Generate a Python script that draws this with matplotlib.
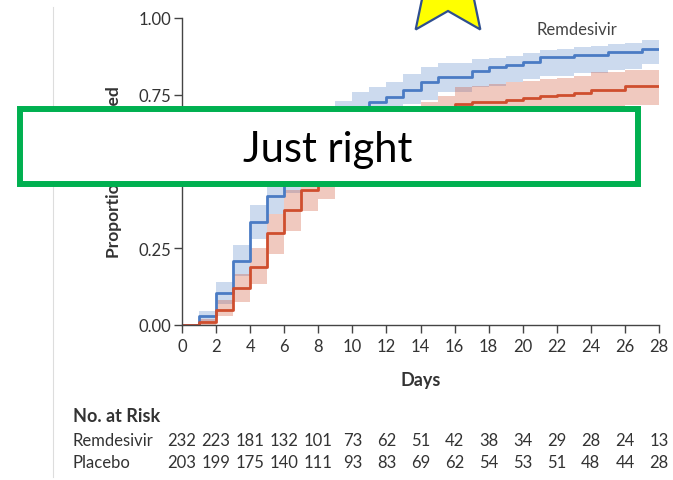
import numpy as np
import matplotlib
matplotlib.use("Agg")
import matplotlib.pyplot as plt
from matplotlib.patches import Rectangle, Polygon
from matplotlib.transforms import blended_transform_factory

plt.rcParams['font.family'] = ['Lato', 'DejaVu Sans']

# cumulative recovery, one value per day (step starts at that day)
days = np.arange(0, 29)
rem = [0.0, 0.029, 0.105, 0.21, 0.334, 0.42, 0.49, 0.54, 0.59, 0.645, 0.685,
       0.725, 0.742, 0.765, 0.791, 0.807, 0.807, 0.826, 0.839, 0.847, 0.858,
       0.872, 0.872, 0.88, 0.88, 0.89, 0.89, 0.899, 0.899]
rem_lo = [0.0, 0.01, 0.07, 0.16, 0.28, 0.36, 0.43, 0.48, 0.53, 0.59, 0.63,
          0.67, 0.69, 0.72, 0.733, 0.758, 0.758, 0.775, 0.78, 0.79, 0.80,
          0.81, 0.81, 0.82, 0.82, 0.83, 0.835, 0.85, 0.85]
rem_hi = [0.0, 0.045, 0.14, 0.26, 0.39, 0.48, 0.56, 0.62, 0.67, 0.73, 0.758,
          0.774, 0.79, 0.818, 0.839, 0.855, 0.855, 0.865, 0.87, 0.875, 0.885,
          0.895, 0.90, 0.905, 0.91, 0.915, 0.92, 0.927, 0.927]

pla = [0.0, 0.009, 0.05, 0.12, 0.19, 0.30, 0.376, 0.44, 0.48, 0.52, 0.55,
       0.58, 0.61, 0.64, 0.67, 0.69, 0.72, 0.725, 0.728, 0.732, 0.738,
       0.745, 0.75, 0.755, 0.767, 0.767, 0.78, 0.78, 0.78]
pla_lo = [0.0, 0.0, 0.03, 0.075, 0.134, 0.23, 0.305, 0.37, 0.41, 0.45, 0.48,
          0.51, 0.54, 0.57, 0.60, 0.63, 0.65, 0.655, 0.66, 0.665, 0.675,
          0.68, 0.685, 0.69, 0.70, 0.70, 0.715, 0.717, 0.717]
pla_hi = [0.0, 0.02, 0.08, 0.165, 0.25, 0.36, 0.44, 0.50, 0.54, 0.58, 0.61,
          0.64, 0.67, 0.70, 0.725, 0.745, 0.774, 0.78, 0.785, 0.79, 0.795,
          0.80, 0.805, 0.81, 0.825, 0.825, 0.83, 0.83, 0.83]

risk_days = list(range(0, 29, 2))
rem_risk = [232, 223, 181, 132, 101, 73, 62, 51, 42, 38, 34, 29, 28, 24, 13]
pla_risk = [203, 199, 175, 140, 111, 93, 83, 69, 62, 54, 53, 51, 48, 44, 28]

blue = '#4a7bc4'
red = '#cf4e2e'
txt = '#333333'

W, H = 673, 481
fig = plt.figure(figsize=(W / 100, H / 100), dpi=100)
ax = fig.add_axes([182 / W, 1 - 326 / H, 477 / W, 307 / H])

ax.fill_between(days, rem_lo, rem_hi, step='post', color=blue, alpha=0.28, lw=0)
ax.fill_between(days, pla_lo, pla_hi, step='post', color=red, alpha=0.3, lw=0)
ax.step(days, rem, where='post', color=blue, lw=2.0)
ax.step(days, pla, where='post', color=red, lw=2.0)

ax.set_xlim(0, 28)
ax.set_ylim(0, 1)
ax.set_xticks(range(0, 29, 2))
ax.set_yticks([0, 0.25, 0.5, 0.75, 1.0])
ax.set_yticklabels(['0.00', '0.25', '0.50', '0.75', '1.00'])
for s in ['top', 'right']:
    ax.spines[s].set_visible(False)
for s in ['left', 'bottom']:
    ax.spines[s].set_color('#444444')
    ax.spines[s].set_linewidth(1.0)
ax.tick_params(colors='#444444', labelcolor=txt, labelsize=12, width=1)
ax.tick_params(axis='x', length=5.5, pad=3.5)
ax.tick_params(axis='y', length=6, pad=1.5)

ax.set_xlabel('Days', fontsize=13, fontweight='bold', color=txt)
ax.xaxis.set_label_coords(0.5, -0.15)
ax.set_ylabel('Proportion Recovered', fontsize=12.5, fontweight='bold', color=txt)
ax.yaxis.set_label_coords(-0.126, 0.5)

ax.text(23.2, 0.965, 'Remdesivir', fontsize=12, color='#444444', ha='center', va='center')

# number at risk table
tr = blended_transform_factory(ax.transData, fig.transFigure)
fig.text(73 / W, 1 - 416 / H, 'No. at Risk', fontsize=13, fontweight='bold', color=txt, va='center')
fig.text(73 / W, 1 - 441 / H, 'Remdesivir', fontsize=12, color=txt, va='center')
fig.text(73 / W, 1 - 463 / H, 'Placebo', fontsize=12, color=txt, va='center')
for d, a, b in zip(risk_days, rem_risk, pla_risk):
    ax.text(d, 1 - 441 / H, str(a), transform=tr, fontsize=12, color=txt, ha='center', va='center', clip_on=False)
    ax.text(d, 1 - 463 / H, str(b), transform=tr, fontsize=12, color=txt, ha='center', va='center', clip_on=False)

# thin grey rule on the left
fig.add_artist(plt.Line2D([53 / W, 53 / W], [1 - 478 / H, 1 - 8 / H], color='#dddddd', lw=0.8))

# green callout box
fig.add_artist(Rectangle((20 / W, 1 - 185 / H), 618 / W, 75 / H, transform=fig.transFigure,
                         facecolor='white', edgecolor='#00b050', lw=4.3, zorder=5))
fig.text(328 / W, 1 - 150 / H, 'Just right', fontsize=30, color='black',
         ha='center', va='center', zorder=6)

# star peeking from the top
cx, cy, R, r = 448, -14, 55, 26
pts = []
for k in range(10):
    a = np.deg2rad(90 + 36 * k)
    rad = R if k % 2 == 0 else r
    pts.append(((cx + rad * np.cos(a)) / W, 1 - (cy - rad * np.sin(a)) / H))
fig.add_artist(Polygon(pts, closed=True, transform=fig.transFigure,
                       facecolor='#ffff00', edgecolor='#2f4f8f', lw=1.6, zorder=5))

fig.savefig('out.png', dpi=100)
